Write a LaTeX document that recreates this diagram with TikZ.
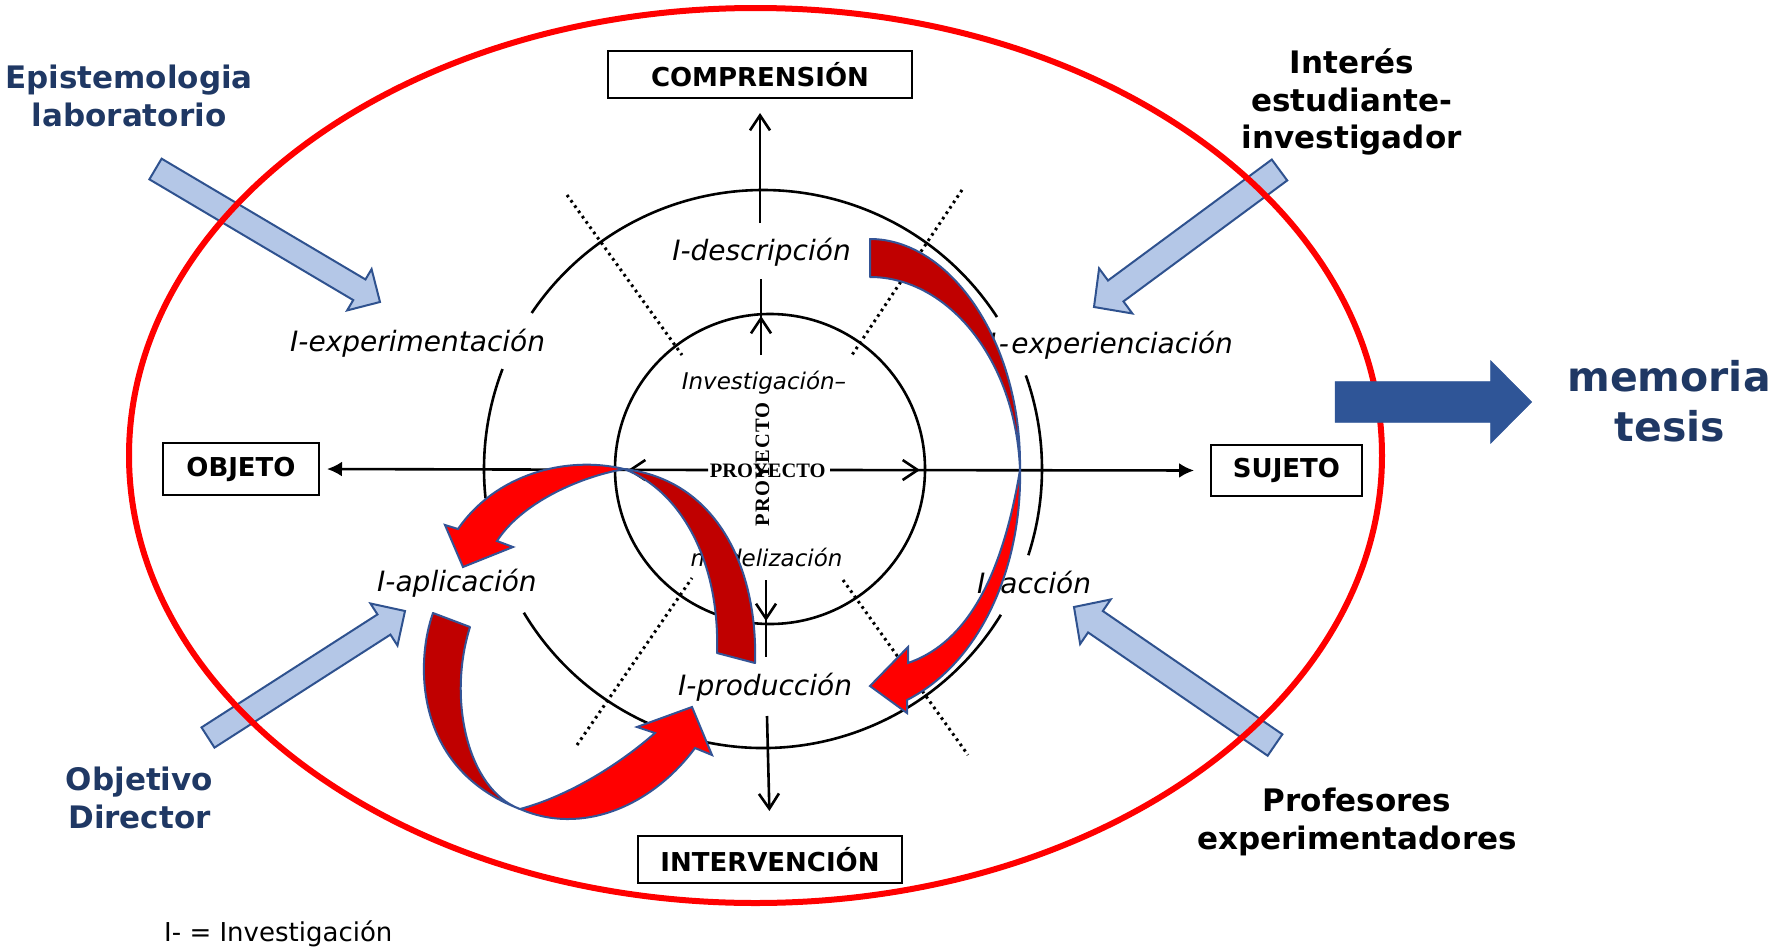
\documentclass[tikz,border=0pt]{standalone}
\usepackage{fontspec}
\setmainfont{DejaVu Sans}
\newfontfamily\projfont{Liberation Serif}
\usetikzlibrary{calc,arrows.meta}
\definecolor{navy}{RGB}{31,56,100}
\definecolor{barrow}{RGB}{47,85,151}
\definecolor{lblue}{RGB}{180,199,231}
\definecolor{lblueline}{RGB}{47,82,143}
\definecolor{dred}{RGB}{192,0,0}
\definecolor{bred}{RGB}{255,0,0}
\definecolor{redline}{RGB}{52,84,150}
% block arrow: #1 tail, #2 tip, #3 half shaft, #4 half head, #5 head length, #6 style
\newcommand\blockarrow[6]{%
  \coordinate (bah) at ($(#2)!#5!(#1)$);
  \draw[#6] ($(#1)!#3!90:(#2)$) -- ($(bah)!#3!90:(#2)$) -- ($(bah)!#4!90:(#2)$) -- (#2)
    -- ($(bah)!#4!-90:(#2)$) -- ($(bah)!#3!-90:(#2)$) -- ($(#1)!#3!-90:(#2)$) -- cycle;
}
\begin{document}
\begin{tikzpicture}[x=1pt,y=-1pt,
  box/.style={draw, line width=2pt, inner sep=0pt, font=\fontsize{26}{30}\selectfont\bfseries},
  lab/.style={inner sep=0pt, font=\fontsize{28}{34}\selectfont\itshape},
  smalllab/.style={inner sep=0pt, anchor=base, font=\fontsize{23}{28}\selectfont\itshape},
  side/.style={inner sep=0pt, anchor=base, font=\fontsize{31}{38}\selectfont\bfseries},
  ring/.style={line width=2.6pt},
  axis/.style={line width=2.6pt},
  dots/.style={line width=3pt, dash pattern=on 2.6pt off 3.9pt},
  lbarrow/.style={fill=lblue, draw=lblueline, line width=2pt, line join=miter},
  nbarrow/.style={fill=barrow, draw=barrow, line width=0.5pt},
  darkpart/.style={fill=dred, draw=redline, line width=2pt, line join=round},
  brightpart/.style={fill=bred, draw=redline, line width=2pt, line join=miter},
  openhead/.style={-{Straight Barb[length=15pt,width=20pt]}},
  fillhead/.style={-{Latex[length=15pt,width=15pt]}}
]
\useasboundingbox (0,0) rectangle (1773,948);

% light blue arrows
\coordinate (e1) at (155.5,169); \coordinate (e2) at (380,302);
\blockarrow{e1}{e2}{12pt}{24pt}{24pt}{lbarrow}
\coordinate (i1) at (1279.5,170); \coordinate (i2) at (1094,307);
\blockarrow{i1}{i2}{13pt}{28pt}{27pt}{lbarrow}
\coordinate (o1) at (208,737.5); \coordinate (o2) at (405,611);
\blockarrow{o1}{o2}{12pt}{25pt}{25pt}{lbarrow}
\coordinate (p1) at (1275,745); \coordinate (p2) at (1074,607);
\blockarrow{p1}{p2}{13pt}{27pt}{26pt}{lbarrow}

% red ellipse
\draw[bred, line width=6pt] (755.5,455.5) ellipse [x radius=626.5pt, y radius=447.5pt];

% navy arrow
\coordinate (n1) at (1335,402); \coordinate (n2) at (1531.7,402);
\blockarrow{n1}{n2}{20.3pt}{41.3pt}{41pt}{nbarrow}

% boxes
\node[box, minimum width=304pt, minimum height=47pt] (compr) at (760,74.5) {COMPRENSIÓN};
\node[box, minimum width=156pt, minimum height=52pt] (objeto) at (241,469) {OBJETO};
\node[box, minimum width=151pt, minimum height=51pt] (sujeto) at (1286.5,470.5) {SUJETO};
\node[box, minimum width=264pt, minimum height=47pt] (interv) at (770,859.5) {INTERVENCIÓN};

% circles
\coordinate (ic) at (770,469);
\coordinate (oc) at (763,469);
\draw[ring] (ic) circle[radius=155pt];
\draw[ring] ($(oc)+(33:279pt)$) arc[start angle=33, end angle=146, radius=279pt];
\draw[ring] ($(oc)+(159:279pt)$) arc[start angle=159, end angle=186, radius=279pt];
\draw[ring] ($(oc)+(211:279pt)$) arc[start angle=211, end angle=328.5, radius=279pt];
\draw[ring] ($(oc)+(-18:279pt)$) arc[start angle=-18, end angle=19.6, radius=279pt];

% dotted radial lines
\coordinate (d1a) at (567,195); \coordinate (d1b) at (682,355);
\coordinate (d2a) at (962,190); \coordinate (d2b) at (852,355);
\coordinate (d3a) at (577,745); \coordinate (d3b) at (692,578);
\coordinate (d4a) at (843,580); \coordinate (d4b) at (968,755);
\draw[dots] (d1a) -- (d1b);
\draw[dots] (d2a) -- (d2b);
\draw[dots] (d3a) -- (d3b);
\draw[dots] (d4a) -- (d4b);

% center texts
\node[inner sep=0pt, anchor=base, font=\projfont\bfseries\fontsize{20.5}{24}\selectfont] (proyh) at (767.7,477.3) {PROYECTO};
\node[inner sep=0pt, rotate=90, font=\projfont\bfseries\fontsize{20.5}{24}\selectfont] (proyv) at (762.5,464.5) {\addfontfeature{LetterSpace=6}PROYECTO};

% axes
\coordinate (hl) at (708,470); \coordinate (hr) at (830,470);
\coordinate (hlt) at (650,470); \coordinate (hltip) at (628,470);
\coordinate (hrt) at (898,470); \coordinate (hrtip) at (920,470);
\draw[axis, fillhead, shorten >=7pt] (hl) -- (objeto.east);
\draw[axis, fillhead, shorten >=16pt] (hr) -- (sujeto.west);
\draw[axis, openhead] (hlt) -- (hltip);
\draw[axis, openhead] (hrt) -- (hrtip);

\coordinate (vt1) at (760,223);
\draw[axis, openhead, shorten >=14pt] (vt1) -- (compr.south);
\coordinate (vt2) at (761,279); \coordinate (vt3) at (761,355); \coordinate (vt4) at (761,316);
\draw[axis] (vt2) -- (vt3);
\draw[axis, openhead] (vt3) -- (vt4);
\coordinate (vb1) at (766,580); \coordinate (vb2) at (766,657); \coordinate (vb3) at (766,621);
\draw[axis] (vb1) -- (vb2);
\draw[axis, openhead] (vb1) -- (vb3);
\coordinate (vb4) at (767,716);
\draw[axis, openhead, shorten >=24pt] (vb4) -- (interv.north);

% italic labels
\node[lab, anchor=base] (ldesc) at (761.5,260) {I-descripción};
\node[lab, anchor=base west] (lexpm) at (290,351.7) {I-experimentación};
\node[lab, anchor=base west] (lexpc) at (988,353.3) {I\makebox[15pt]{-}experienciación};
\node[lab, anchor=base west] (lapl) at (377,591.7) {I-aplicación};
\node[lab, anchor=base west] (lacc) at (977,593.3) {I\makebox[15pt]{-}acción};
\node[lab, anchor=base west] (lprod) at (678,695) {I-producción};
\node[smalllab] (linv) at (764,389.3) {Investigación–};
\node[smalllab] (lmod) at (766.5,566.7) {modelización};

% side texts
\node[side, text=navy] (ep1) at (129,88) {Epistemologia};
\node[side, text=navy] (ep2) at (129,126) {laboratorio};
\node[side] (in1) at (1351.7,73.3) {Interés};
\node[side] (in2) at (1351.7,111.2) {estudiante-};
\node[side] (in3) at (1351.7,148.3) {investigador};
\node[side, text=navy] (ob1) at (139.5,790) {Objetivo};
\node[side, text=navy] (ob2) at (139.5,828) {Director};
\node[side] (pr1) at (1357,811) {Profesores};
\node[side] (pr2) at (1357,849) {experimentadores};
\node[inner sep=0pt, anchor=base, text=navy, font=\fontsize{41}{48}\selectfont\bfseries] (mem) at (1669,391.7) {memoria};
\node[inner sep=0pt, anchor=base, text=navy, font=\fontsize{41}{48}\selectfont\bfseries] (tes) at (1670,441.7) {tesis};
\node[inner sep=0pt, anchor=base west, font=\fontsize{26}{30}\selectfont] (legend) at (164,941.7) {I- = Investigación};

% red curved arrows
% right arrow (I-descripcion -> I-produccion)
\draw[darkpart] (870,239) .. controls (950,239) and (1022,342) .. (1020,470)
  .. controls (1016,360) and (948,277) .. (870,277) -- cycle;
\draw[brightpart] (1020,470) .. controls (1022,560) and (985,660) .. (907,700)
  -- (907,713) -- (870,686) -- (908,647) -- (908,663)
  .. controls (960,645) and (1000,590) .. (1020,470) -- cycle;

% left upper arrow (I-produccion -> I-aplicacion)
\draw[darkpart] (755,663) .. controls (758,570) and (718,480) .. (624,469)
  .. controls (680,490) and (720,560) .. (717,653) -- cycle;
\draw[brightpart] (624,469) .. controls (565,455) and (495,475) .. (458,529)
  -- (445,525) -- (463,567) -- (513,547) -- (497,541)
  .. controls (520,505) and (575,478) .. (624,469) -- cycle;

% left lower arrow (I-aplicacion -> I-produccion)
\draw[darkpart] (433,613) .. controls (416,660) and (412,768) .. (520,809)
  .. controls (468,790) and (447,700) .. (470,627) -- cycle;
\draw[brightpart] (520,809) .. controls (582,836) and (652,806) .. (695,748)
  -- (712,755) -- (692,707) -- (637,727) -- (655,733)
  .. controls (615,768) and (565,797) .. (520,809) -- cycle;
\end{tikzpicture}
\end{document}
